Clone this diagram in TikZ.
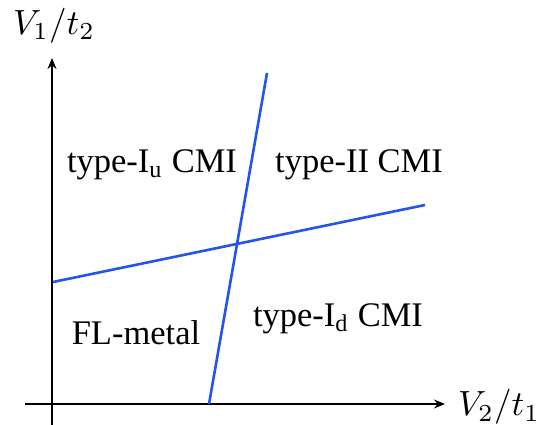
\documentclass[tikz,border=0pt]{standalone}
\usepackage{fontspec}
\newfontfamily\labelfont{Liberation Serif}
\usepackage{tikz}
\usetikzlibrary{positioning, arrows.meta, calc}
\definecolor{phaseblue}{RGB}{35,85,235}

\begin{document}
\begin{tikzpicture}[
  x=1pt, y=-1pt,
  axis/.style={-{Stealth[length=11pt, width=9pt]}, line width=2pt, color=black},
  border/.style={line width=2.6pt, color=phaseblue},
  region/.style={font=\labelfont, scale=3.45, inner sep=0pt},
  axlabel/.style={scale=3.5, inner sep=0pt},
]
  \useasboundingbox (0,0) rectangle (543,425);

  % axes
  \coordinate (origin) at (52,404);
  \coordinate (ybase) at (52,425);
  \coordinate (ytip) at (52,58);
  \coordinate (xbase) at (25,404);
  \coordinate (xtip) at (445,404);
  \draw[axis] (ybase) -- (ytip);
  \draw[axis] (xbase) -- (xtip);
  \node[axlabel] (ylab) at (54,26) {$V_1/t_2$};
  \node[axlabel] (xlab) at (499,407) {$V_2/t_1$};

  % phase boundaries
  \coordinate (hleft) at (53,282);
  \coordinate (hright) at (425,205);
  \coordinate (vbottom) at (209,404);
  \coordinate (vtop) at (267,73);
  \draw[border] (hleft) -- (hright);
  \draw[border] (vbottom) -- (vtop);

  % regions
  \node[region] (typeIu) at (152,165) {type-I\textsubscript{u} CMI};
  \node[region] (typeII) at (359,165) {type-II CMI};
  \node[region] (flmetal) at (136,333) {FL-metal};
  \node[region] (typeId) at (338,319) {type-I\textsubscript{d} CMI};
\end{tikzpicture}
\end{document}
